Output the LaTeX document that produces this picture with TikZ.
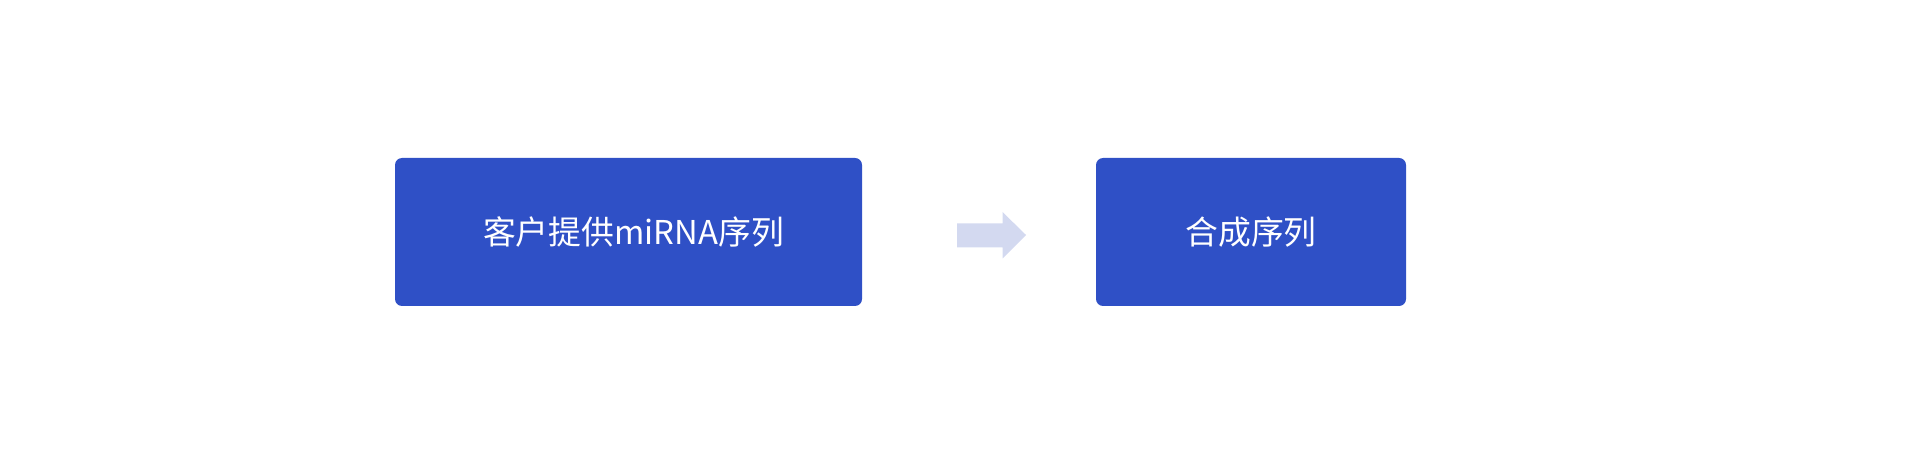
\documentclass[tikz,border=0pt]{standalone}
\usepackage{fontspec}
\setmainfont{Noto Sans CJK SC}
\usepackage{xcolor}
\usepackage{tikz}
\usetikzlibrary{positioning, calc}

\definecolor{boxblue}{HTML}{2F50C6}
\definecolor{arrowgray}{HTML}{D3D9F0}

\begin{document}
\begin{tikzpicture}[x=0.5pt, y=-0.5pt,
  stepbox/.style={fill=boxblue, rounded corners=3.5pt, text=white,
    font=\fontsize{16.4}{19.5}\selectfont, inner sep=0pt,
    minimum height=74pt, anchor=center}]
\useasboundingbox (0,0) rectangle (1909,459);

\node[stepbox, minimum width=233.5pt] (client) at (628.5, 232)
  {\raisebox{1.5pt}{\kern5pt 客户提供miRNA序列}};
\node[stepbox, minimum width=155pt] (synth) at (1251, 232)
  {\raisebox{1.5pt}{合成序列}};

% Draw arrow
\fill[arrowgray] (957, 223.5) -- (1002.5, 223.5) -- (1002.5, 212) -- (1026, 235)
  -- (1002.5, 258.5) -- (1002.5, 247.5) -- (957, 247.5) -- cycle;
\end{tikzpicture}
\end{document}
